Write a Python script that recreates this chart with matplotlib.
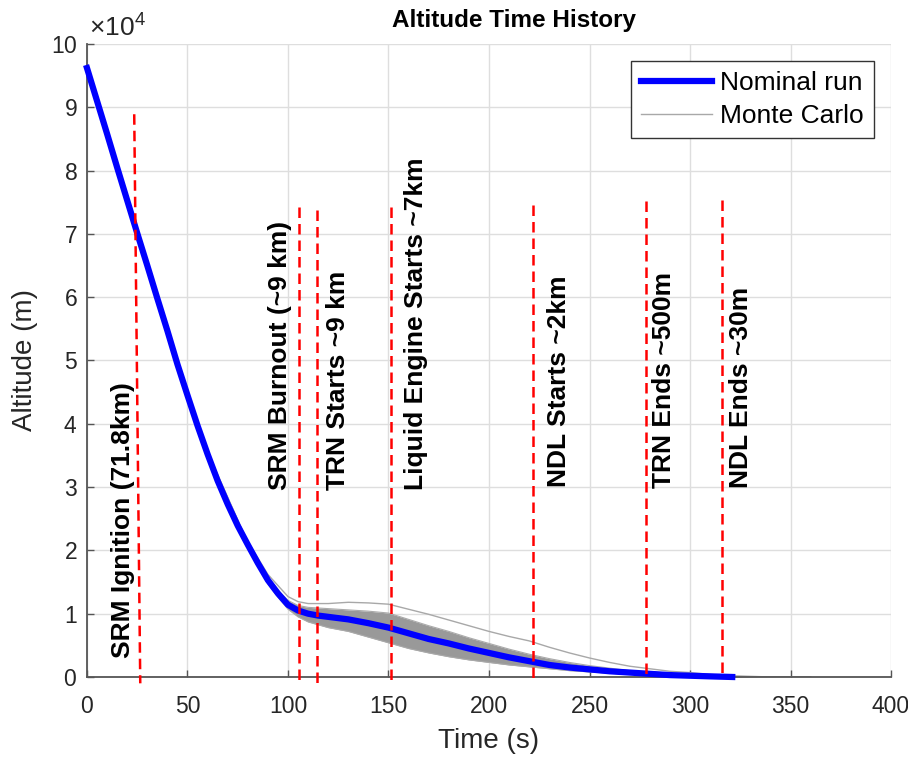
import numpy as np
import matplotlib
matplotlib.use("Agg")
from matplotlib import pyplot as plt
from matplotlib.ticker import ScalarFormatter

plt.rcParams['font.family'] = ['Liberation Sans', 'DejaVu Sans']
plt.rcParams['mathtext.fontset'] = 'custom'
plt.rcParams['mathtext.rm'] = 'Liberation Sans'

# nominal trajectory (s, m)
time_nom = [0, 5, 10, 15, 20, 25, 30, 35, 40, 45, 50, 55, 60, 65, 70, 75, 80, 85, 90, 95,
            100, 105, 110, 115, 120, 130, 140, 150, 160, 170, 180, 190, 200, 210, 220,
            230, 240, 250, 260, 270, 280, 290, 300, 310, 321]
alt_nom = [96200, 91000, 85800, 80500, 75300, 70100, 65000, 59800, 54700, 49400, 44500,
           39700, 35200, 31000, 27300, 23900, 20900, 18000, 15300, 13200, 11400, 10500,
           10000, 9700, 9500, 9100, 8500, 7800, 6900, 6000, 5300, 4500, 3800, 3100, 2500,
           1900, 1500, 1200, 900, 700, 500, 300, 200, 100, 0]

# spread of the monte carlo runs
band_time = [0, 20, 40, 60, 80, 90, 95, 100, 105, 110, 120, 130, 140, 150, 160, 170, 180,
             190, 200, 210, 220, 230, 240, 250, 260, 270, 280, 290, 300, 310, 320, 330,
             345, 360]
band_hi = [96400, 75600, 55000, 35600, 21300, 15800, 13700, 12100, 11300, 11000, 10800,
           10600, 10400, 10100, 9100, 8100, 7200, 6200, 5300, 4400, 3600, 2900, 2300, 1800,
           1400, 1000, 700, 500, 300, 200, 100, 50, 0, 0]
band_lo = [96000, 75000, 54300, 34800, 20500, 14700, 12600, 10700, 9500, 8700, 7800, 7200,
           6300, 5400, 4500, 3800, 3200, 2700, 2300, 1900, 1600, 1300, 1000, 800, 600, 400,
           300, 200, 100, 0, 0, 0, 0, 0]

# the one high run
out_time = [80, 90, 100, 105, 110, 120, 130, 140, 150, 160, 170, 180, 190, 200, 210, 220,
            230, 240, 250, 260, 270, 280, 290, 300, 310, 320, 330, 340, 360]
out_alt = [21400, 16200, 12700, 11900, 11600, 11600, 11800, 11700, 11500, 10700, 9900,
           9000, 8100, 7200, 6400, 5700, 4700, 3800, 3000, 2300, 1700, 1300, 900, 700,
           400, 200, 100, 0, 0]

# event markers: (t top, alt top, t bottom, alt bottom)
ev_t_top = [23.5, 105.6, 114.2, 151.2, 222.0, 278.0, 316.0]
ev_a_top = [88900, 74200, 73800, 74200, 74500, 75200, 75300]
ev_t_bot = [26.5, 105.6, 114.2, 151.2, 222.0, 278.0, 316.0]
ev_a_bot = [-1000, -700, -900, -700, -200, 300, 300]

ev_labels = ['SRM Ignition (71.8km)', 'SRM Burnout (~9 km)', 'TRN Starts ~9 km',
             'Liquid Engine Starts ~7km', 'NDL Starts ~2km', 'TRN Ends ~500m',
             'NDL Ends ~30m']
lab_t = [21.2, 99.6, 128.4, 167.3, 238.3, 290.5, 328.9]
lab_a = [3000, 29500, 29500, 29500, 30000, 29800, 29800]

fig = plt.figure(figsize=(9.08, 7.57), dpi=100)
ax = fig.add_axes([0.0958, 0.1057, 0.8855, 0.8362])

ax.fill_between(band_time, band_lo, band_hi, color='#999999', lw=0, zorder=2)
ax.plot(band_time, band_hi, color='#aaaaaa', lw=0.8, zorder=2)
ax.plot(band_time, band_lo, color='#aaaaaa', lw=0.8, zorder=2)
mc, = ax.plot(out_time, out_alt, color='#a8a8a8', lw=1.0, zorder=2, label='Monte Carlo')
nom, = ax.plot(time_nom, alt_nom, color='#0000ff', lw=4.5, zorder=3, clip_on=False,
               label='Nominal run')

for i in range(len(ev_labels)):
    ax.plot([ev_t_top[i], ev_t_bot[i]], [ev_a_top[i], ev_a_bot[i]], color='#ff0000',
            lw=1.8, linestyle=(0, (4.2, 2.4)), clip_on=False, zorder=4)
    ax.text(lab_t[i], lab_a[i], ev_labels[i], rotation=90, rotation_mode='anchor',
            ha='left', va='baseline', fontsize=19, fontweight='bold', color='black',
            zorder=5)

ax.set_xlim(0, 400)
ax.set_ylim(0, 100000)
ax.set_xticks(np.arange(0, 401, 50))
ax.set_yticks(np.arange(0, 100001, 10000))
fmt = ScalarFormatter(useMathText=True)
fmt.set_powerlimits((4, 4))
ax.yaxis.set_major_formatter(fmt)
ax.yaxis.get_offset_text().set_visible(False)
# exponent label drawn by hand, matlab style
ax.text(0.003, 1.006, r'$\times$10$^{4}$', transform=ax.transAxes, ha='left',
        va='bottom', fontsize=19, color='#262626')

ax.grid(True, color='#dedede', lw=1.0)
ax.set_axisbelow(True)
for s in ['top', 'right']:
    ax.spines[s].set_visible(False)
for s in ['left', 'bottom']:
    ax.spines[s].set_color('#555555')
    ax.spines[s].set_linewidth(1.3)
ax.tick_params(direction='in', length=5, width=1.0, color='#555555',
               labelsize=16.5, labelcolor='#262626')
ax.tick_params(axis='x', pad=13)
ax.tick_params(axis='y', pad=7)

ax.set_xlabel('Time (s)', fontsize=20, color='#262626', labelpad=7)
ax.set_ylabel('Altitude (m)', fontsize=20, color='#262626', labelpad=9)
fig.text(0.566, 0.973, 'Altitude Time History', ha='center', va='center',
         fontsize=17.5, fontweight='bold')

leg = ax.legend(handles=[nom, mc], loc='upper right', fontsize=19, handlelength=2.7,
                handletextpad=0.3, borderaxespad=0.65, fancybox=False, framealpha=1,
                edgecolor='#333333', borderpad=0.38, labelspacing=0.35)
leg.get_frame().set_linewidth(1.0)

fig.savefig('out.png', dpi=100)
